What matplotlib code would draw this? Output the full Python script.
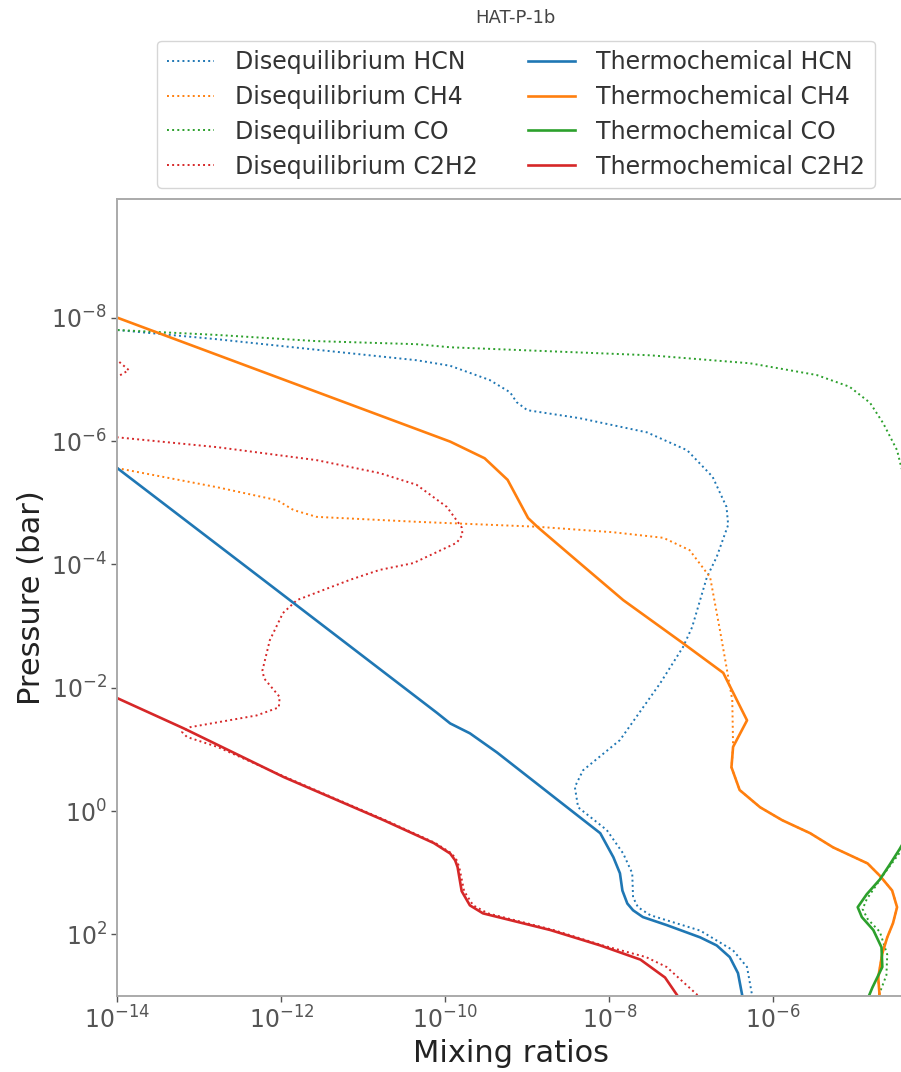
import numpy as np
import matplotlib
matplotlib.use("Agg")
import matplotlib.pyplot as plt
from matplotlib.ticker import NullLocator

# profiles: log10(mixing ratio) vs log10(pressure / bar)
hcn_diseq_lx = [-15.0, -14.0, -12.78, -11.57, -10.35, -9.94, -9.46, -9.21, -9.13, -9.00, -8.36, -7.54,
                -7.05, -6.74, -6.57, -6.55, -6.69, -6.81, -6.99, -7.10, -7.38, -7.87, -8.32, -8.42,
                -8.38, -8.03, -7.83, -7.72, -7.71, -7.65, -7.50, -6.89, -6.49, -6.32, -6.25]
hcn_diseq_lp = [-7.92, -7.80, -7.65, -7.48, -7.31, -7.22, -6.99, -6.79, -6.63, -6.50, -6.37, -6.14,
                -5.85, -5.42, -4.93, -4.64, -4.12, -3.79, -2.98, -2.66, -2.07, -1.15, -0.66, -0.39,
                -0.06, 0.31, 0.69, 1.01, 1.40, 1.56, 1.69, 1.94, 2.26, 2.53, 3.05]

ch4_diseq_lx = [-14.5, -14.0, -12.78, -12.05, -11.85, -11.57, -10.35, -8.88, -7.95, -7.34, -7.02, -6.77,
                -6.65, -6.57, -6.50, -6.49, -6.51, -6.41, -6.16, -5.89, -5.55, -5.27, -4.85, -4.70,
                -4.55, -4.49, -4.54, -4.61, -4.67, -4.72, -4.70]
ch4_diseq_lp = [-5.69, -5.56, -5.25, -5.04, -4.88, -4.77, -4.69, -4.61, -4.52, -4.43, -4.23, -3.79,
                -2.93, -2.33, -1.80, -1.04, -0.71, -0.34, -0.06, 0.15, 0.36, 0.59, 0.85, 1.05,
                1.29, 1.56, 1.82, 2.05, 2.31, 2.70, 3.05]

co_diseq_lx = [-15.0, -14.0, -12.78, -11.57, -10.35, -9.94, -7.50, -6.28, -5.47, -5.07, -4.82, -4.66,
               -4.49, -4.44, -4.25, -4.15, -4.15, -4.25, -4.46, -4.66, -4.86, -4.91, -4.85, -4.70,
               -4.61, -4.62, -4.73]
co_diseq_lp = [-7.87, -7.80, -7.72, -7.62, -7.57, -7.52, -7.39, -7.26, -7.07, -6.88, -6.62, -6.29,
               -5.85, -5.58, -4.80, -3.00, -0.50, 0.20, 0.68, 1.04, 1.43, 1.59, 1.75, 1.96,
               2.33, 2.66, 3.05]

c2h2_diseq_lx = [-16.0, -14.5, -14.0, -13.86, -14.0, -14.5, -15.5, -15.5, -14.4, -14.0, -12.78, -11.57,
                 -10.80, -10.35, -9.98, -9.80, -9.79, -9.86, -10.39, -10.80, -11.16, -11.81, -11.98,
                 -12.14, -12.23, -12.21, -12.02, -12.03, -12.30, -13.11, -13.21, -13.15, -12.78,
                 -11.95, -10.73, -10.12, -9.92, -9.86, -9.83, -9.77, -9.66, -9.48, -8.68, -8.08,
                 -7.55, -7.30, -6.87]
c2h2_diseq_lp = [-10.0, -7.45, -7.31, -7.15, -7.04, -6.90, -6.80, -6.30, -6.11, -6.06, -5.90, -5.69,
                 -5.48, -5.29, -4.93, -4.60, -4.48, -4.35, -4.02, -3.91, -3.75, -3.42, -3.21,
                 -2.77, -2.28, -2.15, -1.85, -1.68, -1.55, -1.36, -1.28, -1.20, -1.04,
                 -0.55, 0.15, 0.52, 0.69, 0.80, 0.91, 1.30, 1.53, 1.66, 1.93, 2.18,
                 2.37, 2.53, 3.05]

hcn_thermo_lx = [-14.5, -14.0, -12.22, -10.10, -9.94, -9.70, -9.37, -8.63, -8.11, -7.95, -7.87, -7.84,
                 -7.78, -7.71, -7.59, -7.30, -6.89, -6.69, -6.53, -6.43, -6.37]
hcn_thermo_lp = [-6.07, -5.56, -3.75, -1.59, -1.42, -1.26, -0.95, -0.18, 0.36, 0.75, 1.01, 1.29,
                 1.50, 1.61, 1.72, 1.85, 2.05, 2.18, 2.37, 2.63, 3.05]

ch4_thermo_lx = [-14.6, -14.0, -9.94, -9.52, -9.24, -8.99, -8.87, -8.36, -7.83, -7.10, -6.61, -6.32,
                 -6.49, -6.51, -6.41, -6.16, -5.89, -5.55, -5.27, -4.85, -4.70, -4.55, -4.49, -4.54,
                 -4.61, -4.67, -4.72, -4.70]
ch4_thermo_lp = [-8.30, -8.00, -5.99, -5.72, -5.37, -4.75, -4.60, -4.02, -3.42, -2.72, -2.24, -1.47,
                 -1.04, -0.71, -0.34, -0.06, 0.15, 0.36, 0.59, 0.85, 1.05, 1.29, 1.56, 1.82,
                 2.05, 2.31, 2.70, 3.05]

co_thermo_lx = [-4.20, -4.20, -4.32, -4.46, -4.58, -4.70, -4.86, -4.97, -4.92, -4.78, -4.68, -4.67,
                -4.79, -4.85]
co_thermo_lp = [-10.0, -1.00, 0.30, 0.62, 0.87, 1.11, 1.35, 1.56, 1.72, 1.93, 2.21, 2.53,
                2.86, 3.05]

c2h2_thermo_lx = [-14.5, -14.0, -13.19, -11.97, -10.75, -10.14, -9.94, -9.88, -9.85, -9.80, -9.70, -9.54,
                  -8.72, -8.11, -7.62, -7.32, -7.14]
c2h2_thermo_lp = [-2.13, -1.83, -1.34, -0.55, 0.15, 0.52, 0.69, 0.80, 0.91, 1.30, 1.53, 1.66,
                  1.93, 2.18, 2.41, 2.70, 3.05]

species = ["HCN", "CH4", "CO", "C2H2"]
colors = ["#1f77b4", "#ff7f0e", "#2ca02c", "#d62728"]
diseq = [(hcn_diseq_lx, hcn_diseq_lp), (ch4_diseq_lx, ch4_diseq_lp),
         (co_diseq_lx, co_diseq_lp), (c2h2_diseq_lx, c2h2_diseq_lp)]
thermo = [(hcn_thermo_lx, hcn_thermo_lp), (ch4_thermo_lx, ch4_thermo_lp),
          (co_thermo_lx, co_thermo_lp), (c2h2_thermo_lx, c2h2_thermo_lp)]

fig = plt.figure(figsize=(9.01, 10.72), dpi=100)
ax = fig.add_axes([0.1302, 0.0709, 0.875, 0.7432])

for name, col, (lx, lp) in zip(species, colors, diseq):
    ax.plot(10 ** np.array(lx), 10 ** np.array(lp), ls=":", lw=1.4, color=col,
            label="Disequilibrium " + name)
for name, col, (lx, lp) in zip(species, colors, thermo):
    ax.plot(10 ** np.array(lx), 10 ** np.array(lp), ls="-", lw=1.9, color=col,
            label="Thermochemical " + name)

ax.set_xscale("log")
ax.set_yscale("log")
ax.set_xlim(1e-14, 10 ** -4.385)
ax.set_ylim(1e3, 10 ** -9.92)
ax.set_xticks([1e-14, 1e-12, 1e-10, 1e-8, 1e-6])
ax.set_yticks([1e-8, 1e-6, 1e-4, 1e-2, 1e0, 1e2])
ax.xaxis.set_minor_locator(NullLocator())
ax.yaxis.set_minor_locator(NullLocator())
ax.tick_params(labelsize=17, colors="#555555", length=4, width=1)
for s in ax.spines.values():
    s.set_color("#aaaaaa")
    s.set_linewidth(1.4)

ax.set_xlabel("Mixing ratios", fontsize=22, color="#222222")
ax.set_ylabel("Pressure (bar)", fontsize=22, color="#222222")

leg = ax.legend(loc="lower center", bbox_to_anchor=(516 / 901, 1 - 188 / 1072),
                bbox_transform=fig.transFigure, borderaxespad=0, ncol=2, fontsize=17,
                labelspacing=0.46, columnspacing=2.1, handletextpad=0.9)
for t in leg.get_texts():
    t.set_color("#333333")
fig.text(515 / 901, 1 - 18 / 1072, "HAT-P-1b", ha="center", va="center",
         fontsize=13, color="#444444")

fig.savefig("out.png", dpi=100)
